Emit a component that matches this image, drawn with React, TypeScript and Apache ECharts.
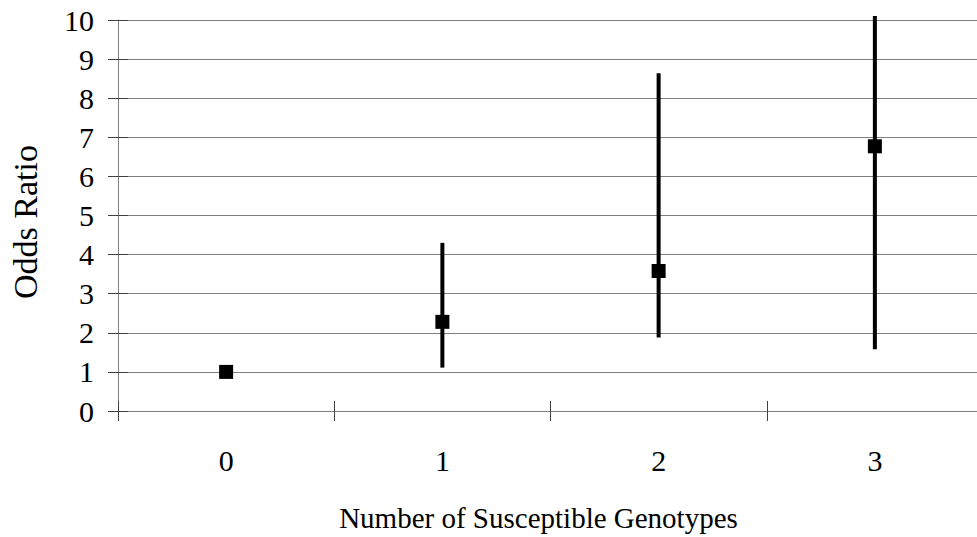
import React, { useEffect, useRef } from "react";
import * as echarts from "echarts";

const categories = ["0", "1", "2", "3"];
const oddsRatio = [1.0, 2.28, 3.58, 6.77];
const lowerCI = [1.0, 1.11, 1.88, 1.58];
const upperCI = [1.0, 4.3, 8.64, 10.1];
const yTicks = { min: 0, max: 10, interval: 1 };

const FONT = "'Liberation Serif', 'Times New Roman', serif";
const GRAY = "#808080";

export default function App() {
  const ref = useRef<HTMLDivElement>(null);
  useEffect(() => {
    if (!ref.current) return;
    const chart = echarts.init(ref.current, undefined, { renderer: "svg" });
    const errData = categories.map((c, i) => [i, lowerCI[i], upperCI[i]]);
    chart.setOption({
      animation: false,
      backgroundColor: "#ffffff",
      grid: { left: 118, right: 2, top: 20, bottom: 125, containLabel: false },
      xAxis: [
        {
          type: "category",
          data: categories,
          boundaryGap: true,
          position: "bottom",
          axisLine: { show: true, onZero: false, lineStyle: { color: GRAY, width: 1 } },
          axisTick: { show: true, inside: false, length: 10, lineStyle: { color: "#404040" } },
          axisLabel: { fontFamily: FONT, fontSize: 30, color: "#000", margin: 34 },
          splitLine: { show: false },
          name: "Number of Susceptible Genotypes",
          nameLocation: "middle",
          nameGap: 92,
          nameTextStyle: { fontFamily: FONT, fontSize: 29, color: "#000", padding: [0, 24, 0, 0] },
        },
        {
          type: "category",
          data: categories,
          boundaryGap: true,
          position: "bottom",
          axisLine: { show: false, onZero: false },
          axisTick: { show: true, inside: true, length: 10, lineStyle: { color: "#404040" } },
          axisLabel: { show: false },
          splitLine: { show: false },
        },
      ],
      yAxis: [
        {
          type: "value",
          min: yTicks.min,
          max: yTicks.max,
          interval: yTicks.interval,
          axisLine: { show: true, onZero: false, lineStyle: { color: GRAY, width: 1 } },
          axisTick: { show: true, inside: false, length: 10, lineStyle: { color: "#404040" } },
          axisLabel: { fontFamily: FONT, fontSize: 30, color: "#000", margin: 24 },
          splitLine: { show: true, lineStyle: { color: GRAY, width: 1 } },
          name: "Odds Ratio",
          nameLocation: "middle",
          nameGap: 76,
          nameTextStyle: { fontFamily: FONT, fontSize: 34, color: "#000", padding: [0, 13, 0, 0] },
        },
        {
          type: "value",
          position: "left",
          min: yTicks.min,
          max: yTicks.max,
          interval: yTicks.interval,
          axisLine: { show: false },
          axisTick: { show: true, inside: true, length: 10, lineStyle: { color: "#404040" } },
          axisLabel: { show: false },
          splitLine: { show: false },
        },
      ],
      series: [
        {
          type: "custom",
          clip: false,
          data: errData,
          encode: { x: 0, y: [1, 2] },
          renderItem: (params: any, api: any) => {
            const x = api.value(0);
            const lo = api.coord([x, api.value(1)]);
            const hi = api.coord([x, api.value(2)]);
            return {
              type: "line",
              shape: { x1: lo[0], y1: lo[1], x2: hi[0], y2: hi[1] },
              style: { stroke: "#000", lineWidth: 4 },
            };
          },
          z: 2,
        },
        {
          type: "scatter",
          data: oddsRatio,
          symbol: "rect",
          symbolSize: 14,
          itemStyle: { color: "#000", opacity: 1 },
          z: 3,
        },
      ],
    });
    return () => chart.dispose();
  }, []);
  return (
    <div
      ref={ref}
      style={{ position: "absolute", left: 0, top: 0, width: 985, height: 537, background: "#fff" }}
    />
  );
}
